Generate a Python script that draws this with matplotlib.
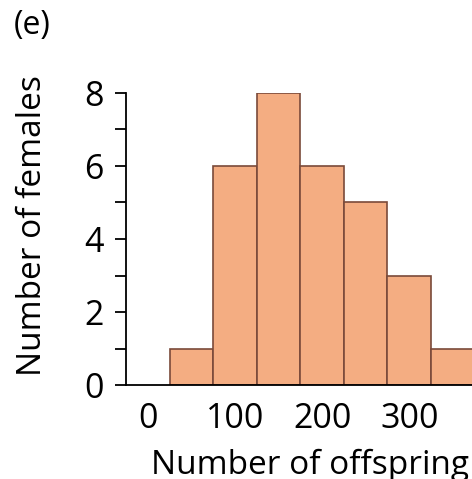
import numpy as np
import matplotlib
matplotlib.use("Agg")
from matplotlib import pyplot as plt

# histogram bins (number of offspring) and counts of females
bin_edges = [25, 75, 125, 175, 225, 275, 325, 375]
counts = [1, 6, 8, 6, 5, 3, 1]
x_ticks = [0, 100, 200, 300]
y_ticks = [0, 2, 4, 6, 8]

plt.rcParams['font.family'] = ['Open Sans', 'DejaVu Sans']

fig = plt.figure(figsize=(4.72, 4.79), dpi=100)
ax = fig.add_axes([0.267, 0.196, 0.733, 0.61])

widths = np.diff(bin_edges)
ax.bar(bin_edges[:-1], counts, width=widths, align='edge',
       color='#F4AD82', edgecolor='#7A4A3A', linewidth=1.2)

ax.set_xlim(-25, 372)
ax.set_ylim(0, 8)

for side in ['top', 'right']:
    ax.spines[side].set_visible(False)
ax.spines['left'].set_linewidth(1.3)
ax.spines['bottom'].set_linewidth(1.3)

ax.set_xticks(x_ticks)
ax.set_yticks(y_ticks)
ax.set_yticks(np.arange(1, 8, 2), minor=True)
ax.tick_params(axis='x', length=0, labelsize=24.5, pad=12)
ax.tick_params(axis='y', which='both', length=8, width=1.3,
               labelsize=24.5, pad=8)

# axis labels placed where the original has them
ax.set_xlabel("Number of offspring", fontsize=24)
ax.xaxis.set_label_coords(0.532, -0.33)
ax.xaxis.label.set_verticalalignment('bottom')
ax.set_ylabel("Number of females", fontsize=24)
ax.yaxis.set_label_coords(-0.27, 0.545)
ax.yaxis.label.set_verticalalignment('center')

fig.text(0.03, 0.946, "(e)", fontsize=23, va='center')

fig.savefig("out.png", dpi=100)
